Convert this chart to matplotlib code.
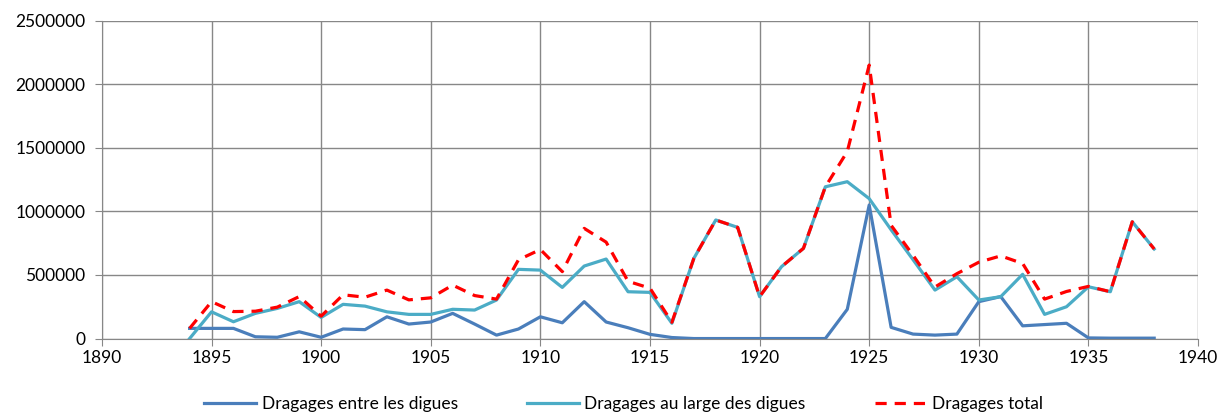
import matplotlib as mpl
import matplotlib.pyplot as plt
from matplotlib.ticker import FuncFormatter

mpl.rcParams['figure.dpi'] = 100
mpl.rcParams['font.family'] = ['Lato', 'DejaVu Sans']

years = list(range(1894, 1939))

# dredged volumes per year
entre = [80000, 80000, 80000, 14000, 10000, 53000, 10000, 75000, 70000, 171000,
         114000, 130000, 198000, 114000, 27000, 75000, 171000, 124000, 290000, 130000,
         85000, 33000, 8000, 0, 0, 0, 0, 0, 0, 0,
         230000, 1050000, 88000, 35000, 27000, 35000, 290000, 330000, 100000, 110000,
         120000, 5000, 3000, 3000, 3000]
large = [0, 210000, 132000, 198000, 237000, 290000, 166000, 269000, 255000, 210000,
         190000, 190000, 230000, 224000, 303000, 544000, 538000, 402000, 570000, 625000,
         368000, 363000, 120000, 630000, 932000, 874000, 329000, 565000, 709000, 1193000,
         1233000, 1100000, 855000, 620000, 381000, 486000, 303000, 329000, 505000, 190000,
         250000, 407000, 368000, 918000, 704000]
total = [80000, 290000, 212000, 215000, 247000, 330000, 176000, 344000, 325000, 381000,
         304000, 320000, 420000, 338000, 310000, 619000, 700000, 526000, 866000, 758000,
         450000, 396000, 128000, 630000, 932000, 874000, 329000, 565000, 709000, 1193000,
         1470000, 2150000, 890000, 655000, 405000, 510000, 600000, 650000, 590000, 310000,
         370000, 410000, 368000, 918000, 704000]

fig = plt.figure(figsize=(12.28, 4.19))
ax = fig.add_axes([0.083, 0.192, 0.8926, 0.759])

ax.plot(years, entre, color='#4A7EBB', linewidth=2.3, label='Dragages entre les digues')
ax.plot(years, large, color='#4BACC6', linewidth=2.3, label='Dragages au large des digues')
ax.plot(years, total, color='#FF0000', linewidth=2.3, linestyle=(0, (3.5, 2.5)),
        label='Dragages total')

ax.set_xlim(1890, 1940)
ax.set_ylim(0, 2500000)
ax.set_xticks(range(1890, 1941, 5))
ax.set_yticks(range(0, 2500001, 500000))
ax.yaxis.set_major_formatter(FuncFormatter(lambda v, pos: f'{int(v)}'))
ax.grid(True, color='#878787', linewidth=1)
ax.set_axisbelow(True)
for s in ['top', 'right']:
    ax.spines[s].set_visible(False)
for s in ['left', 'bottom']:
    ax.spines[s].set_color('#878787')
ax.tick_params(colors='#878787', length=5, labelcolor='black', labelsize=12.5)
ax.tick_params(axis='y', pad=7)

fig.legend(loc='lower center', ncol=3, frameon=False, fontsize=12.5,
           bbox_to_anchor=(0.508, -0.02), handlelength=3.0, handletextpad=0.3,
           columnspacing=4.0)

fig.savefig('out.png')
